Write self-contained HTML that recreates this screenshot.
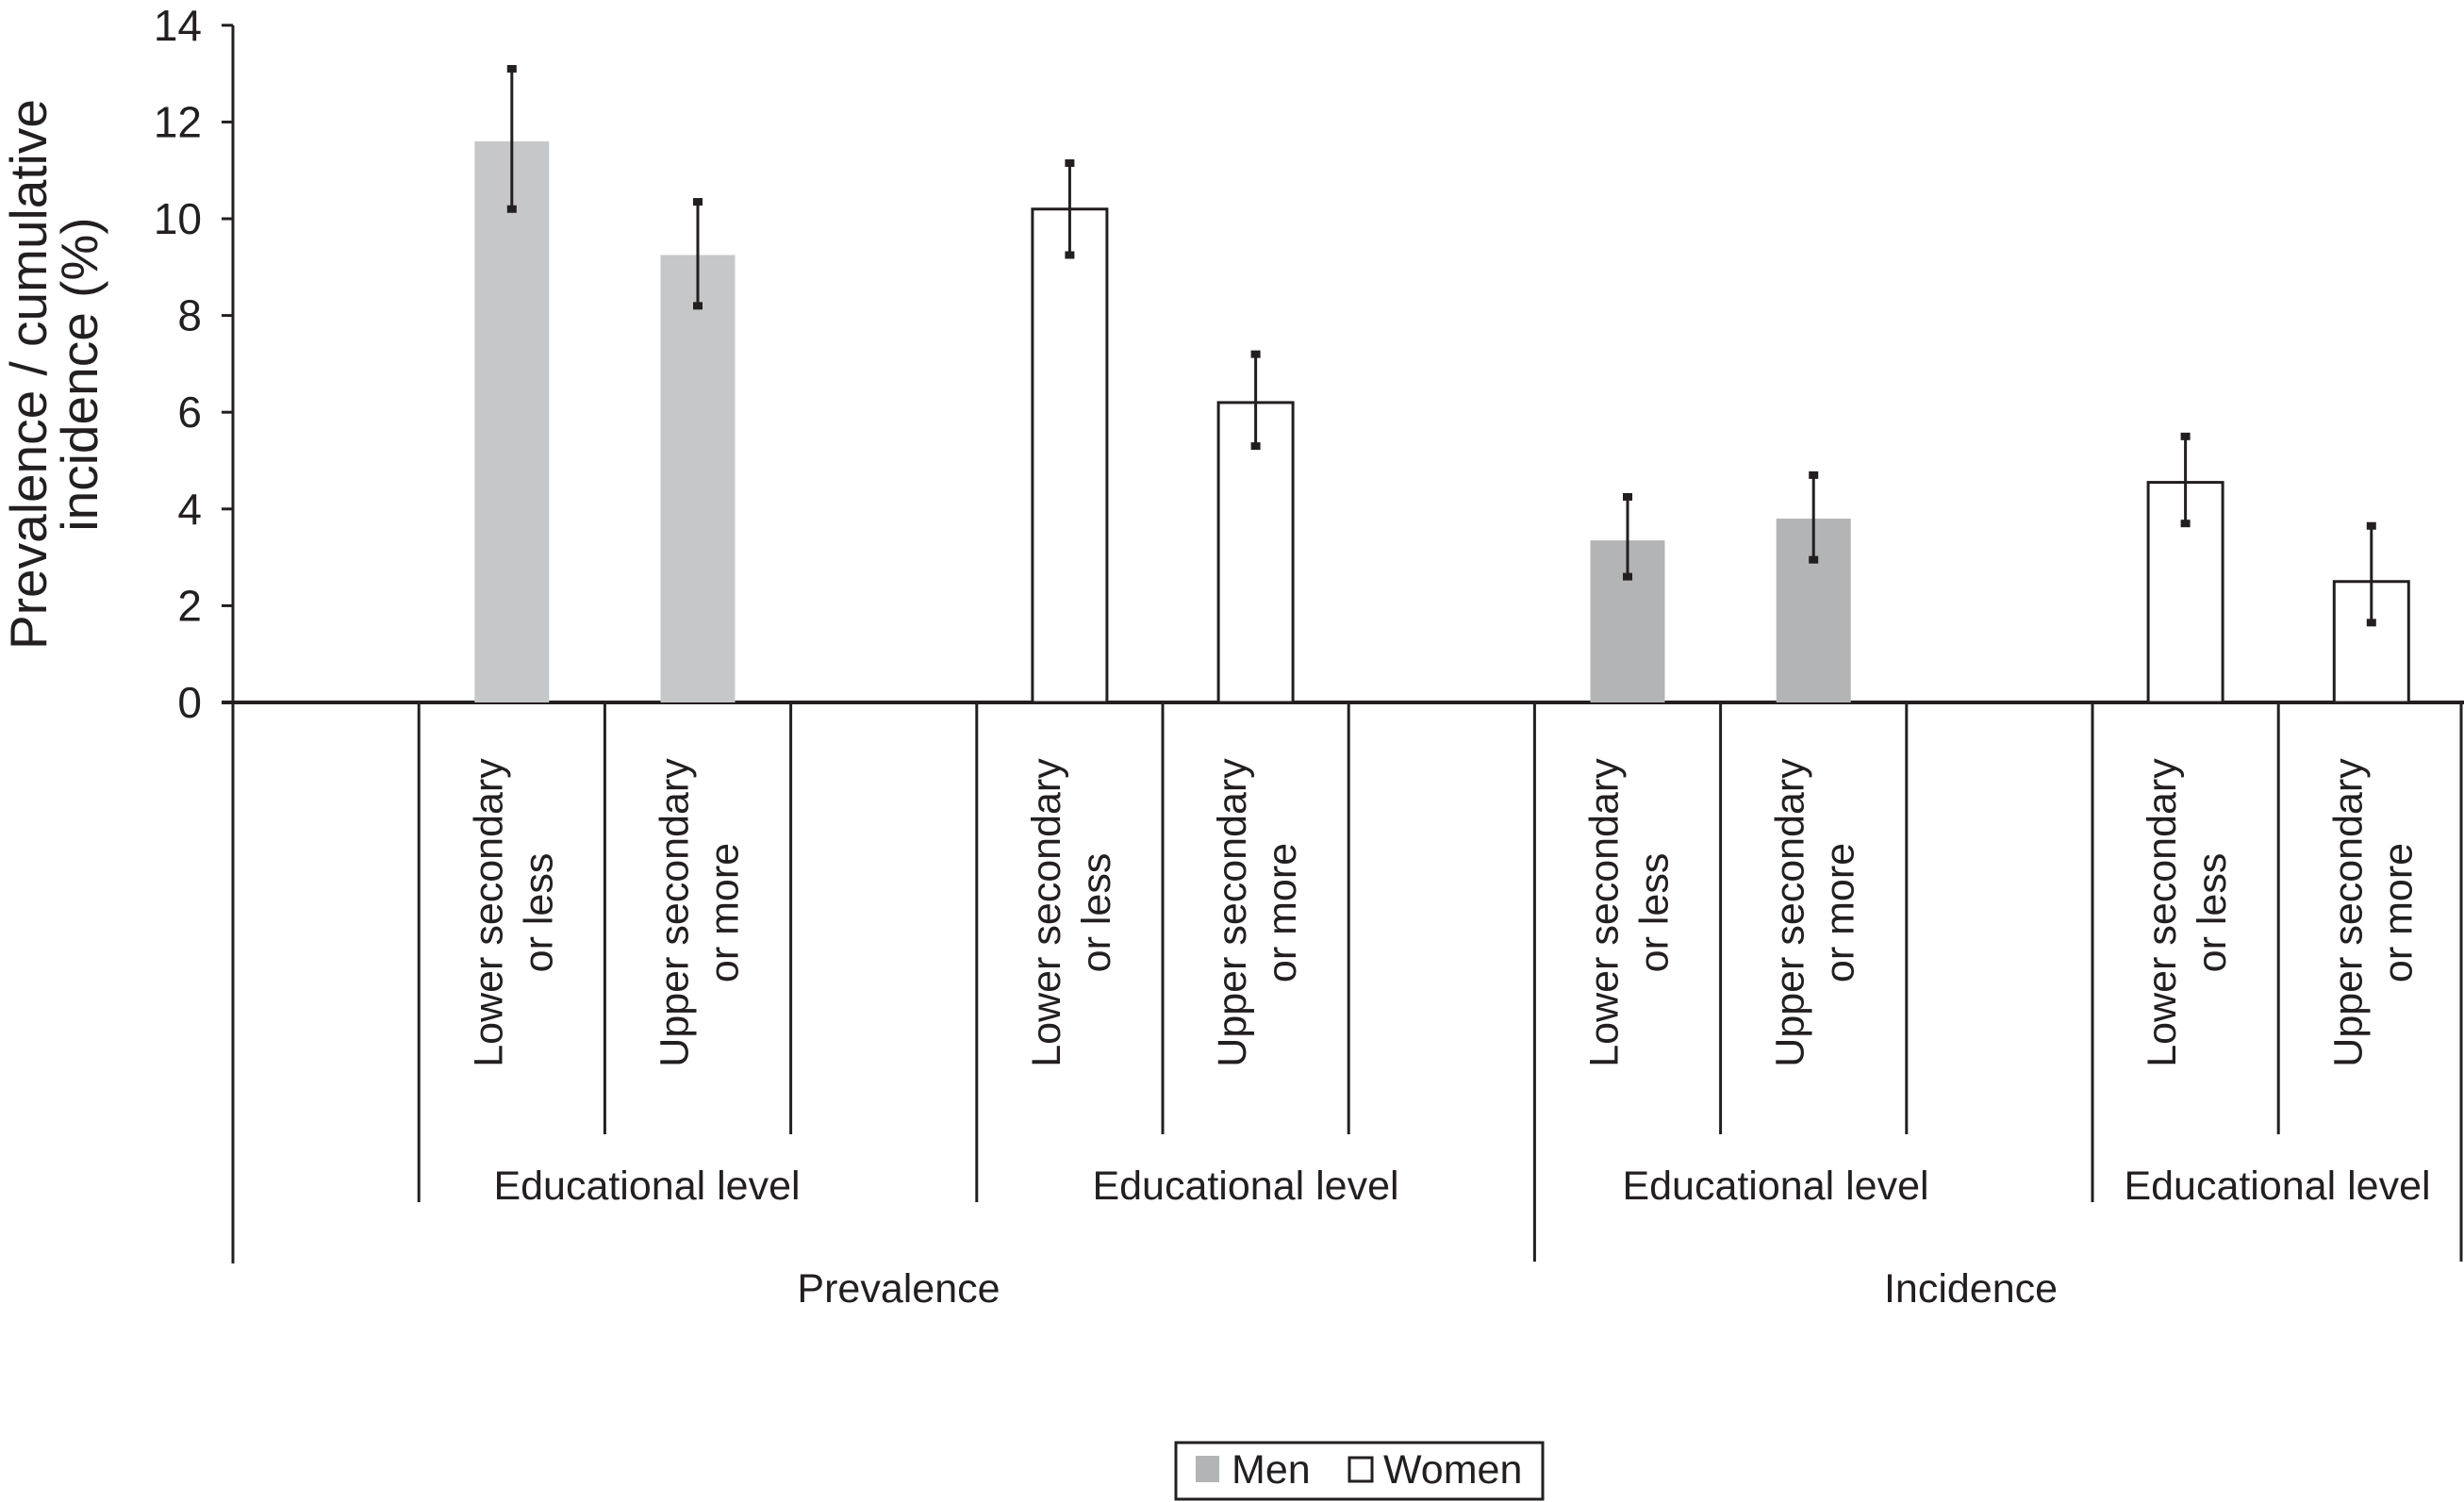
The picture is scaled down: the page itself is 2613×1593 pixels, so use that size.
<!DOCTYPE html>
<html><head><meta charset="utf-8"><style>
html,body{margin:0;padding:0;background:#fff;}
svg{display:block;font-family:"Liberation Sans",Arial,sans-serif;}
</style></head><body>
<svg id="chart" width="2613" height="1593" viewBox="0 0 2613 1593" xmlns="http://www.w3.org/2000/svg">
<g id="axes"></g>
<g id="bars"></g>
<g id="labels"></g>
<g id="title">
  <text transform="translate(30,397) rotate(-90)" text-anchor="middle" dominant-baseline="central" font-size="55" fill="#231f20">Prevalence / cumulative</text>
  <text transform="translate(84,397) rotate(-90)" text-anchor="middle" dominant-baseline="central" font-size="55" fill="#231f20">incidence (%)</text>
</g>
<g id="legend">
  <rect x="1247" y="1530" width="389" height="60" fill="#fff" stroke="#231f20" stroke-width="3"/>
  <rect x="1268" y="1544" width="25" height="28" fill="#b3b4b6"/>
  <text x="1306" y="1573" font-size="43" fill="#231f20">Men</text>
  <rect x="1431" y="1546" width="24" height="25" fill="#fff" stroke="#231f20" stroke-width="3"/>
  <text x="1467" y="1573" font-size="43" fill="#231f20">Women</text>
</g>
</svg>
<script>
const categories = ["Lower secondary|or less","Upper secondary|or more","Lower secondary|or less","Upper secondary|or more","Lower secondary|or less","Upper secondary|or more","Lower secondary|or less","Upper secondary|or more"];
const slots = [1,2,4,5,7,8,10,11];
const values = [11.6, 9.25, 10.2, 6.2, 3.35, 3.8, 4.55, 2.5];
const errLow = [10.2, 8.2, 9.25, 5.3, 2.6, 2.95, 3.7, 1.65];
const errHigh = [13.1, 10.35, 11.15, 7.2, 4.25, 4.7, 5.5, 3.65];
const series = ["men","men","women","women","men","men","women","women"];
const yTicks = [0,2,4,6,8,10,12,14];

const NS="http://www.w3.org/2000/svg";
const X0=247, SLOT=197.2, Y0=745, PPU=51.3;
const xs = s => X0 + s*SLOT;
const ys = v => Y0 - v*PPU;
function mk(tag, attrs, parent){const e=document.createElementNS(NS,tag);for(const k in attrs)e.setAttribute(k,attrs[k]);parent.appendChild(e);return e;}
const axes=document.getElementById('axes'), bars=document.getElementById('bars'), labels=document.getElementById('labels');
const C="#231f20";

let a=mk('line',{x1:X0,y1:ys(14),x2:X0,y2:1340,stroke:C,'stroke-width':3},axes);


yTicks.forEach(t=>{
  mk('line',{x1:X0-12,y1:ys(t),x2:X0,y2:ys(t),stroke:C,'stroke-width':3},axes);
  const tx=mk('text',{x:214,y:ys(t),'text-anchor':'end','dominant-baseline':'central','font-size':46,fill:C},labels);
  tx.textContent=t;
  
  
});

values.forEach((v,i)=>{
  const cx=xs(slots[i]+0.5), w=79;
  let r;
  if(series[i]==="men"){
    r=mk('rect',{x:cx-w/2,y:ys(v),width:w,height:Y0-ys(v),fill:(i<4?"#c6c7c9":"#b3b4b6")},bars);
  } else {
    r=mk('rect',{x:cx-w/2,y:ys(v),width:w,height:Y0-ys(v),fill:"#fff",stroke:C,'stroke-width':3},bars);
  }
  
  
  const eb=mk('line',{x1:cx,y1:ys(errHigh[i]),x2:cx,y2:ys(errLow[i]),stroke:C,'stroke-width':3},bars);
  
  
  [errHigh[i],errLow[i]].forEach(e=>mk('rect',{x:cx-5,y:ys(e)-4,width:10,height:8,fill:C},bars));
  const parts=categories[i].split('|');
  [-0.5,0.5].forEach((o,j)=>{
    const t=mk('text',{transform:`translate(${cx+o*53+2},968) rotate(-90)`,'text-anchor':'middle','dominant-baseline':'central','font-size':43,fill:C},labels);
    t.textContent=parts[j];
    
    
  });
});

let z=mk('line',{x1:X0-12,y1:Y0,x2:2613,y2:Y0,stroke:C,'stroke-width':4},axes);



for(let k=1;k<=12;k++){
  let bottom=1203;
  if(k===1||k===4||k===10) bottom=1275;
  if(k===7||k===12) bottom=1338;
  mk('line',{x1:Math.min(xs(k),2610),y1:Y0,x2:Math.min(xs(k),2610),y2:bottom,stroke:C,'stroke-width':3},axes);
}

[[686,"Educational level",1258],[1321,"Educational level",1258],[1883,"Educational level",1258],[2415,"Educational level",1258],[953,"Prevalence",1367],[2090,"Incidence",1367]].forEach(g=>{
  const t=mk('text',{x:g[0],y:g[2],'text-anchor':'middle','dominant-baseline':'central','font-size':43,fill:C},labels);
  t.textContent=g[1];
  
  
});
</script>
</body></html>
